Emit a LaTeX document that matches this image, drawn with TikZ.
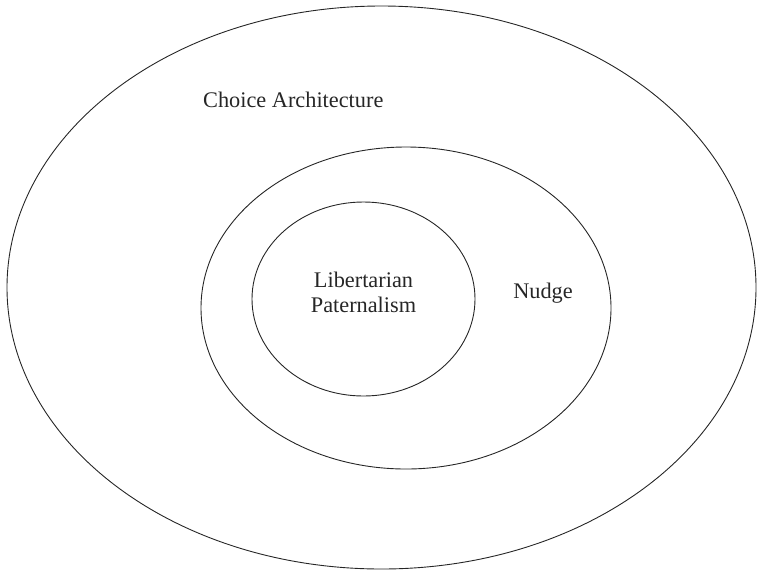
\documentclass[tikz,border=0pt]{standalone}
\usepackage{fontspec}
\setmainfont{Liberation Serif}
\usetikzlibrary{shapes.geometric}
\begin{document}
\begin{tikzpicture}[x=1pt,y=-1pt,
  ring/.style={draw=black!85, line width=0.9pt, ellipse, inner sep=0pt},
  lbl/.style={font=\fontsize{22.3}{25}\selectfont, text=black!85, inner sep=0pt, align=center}]
\useasboundingbox (0,0) rectangle (757,571);
\node[ring, minimum width=749pt, minimum height=563pt] (outer) at (381.5,287.5) {};
\node[ring, minimum width=410pt, minimum height=322pt] (mid) at (406,308) {};
\node[ring, minimum width=223pt, minimum height=194pt] (inner) at (363.5,299) {};
\node[lbl, anchor=base west] (ca) at (203,107) {Choice Architecture};
\node[lbl, anchor=base] (nudge) at (543,298) {Nudge};
\node[lbl, anchor=north] (lp) at (363.5,272) {Libertarian\\Paternalism};
\end{tikzpicture}
\end{document}
